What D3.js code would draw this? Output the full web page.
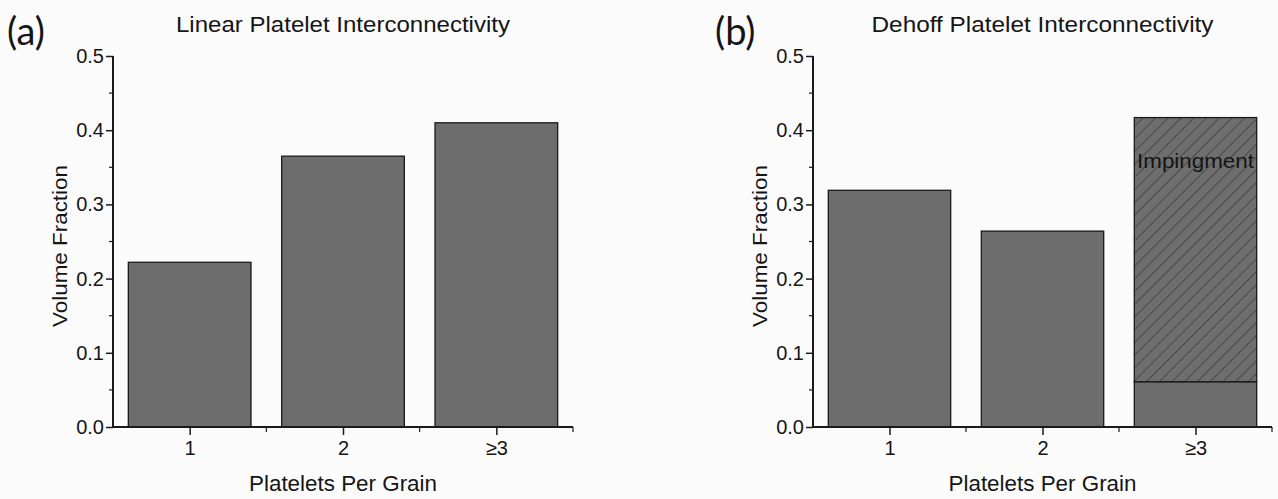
<!DOCTYPE html>
<html>
<head>
<meta charset="utf-8">
<script src="https://cdn.jsdelivr.net/npm/d3@7"></script>
<style>
    body { margin: 0; background: #fbfbfb; }
    svg { display: block; }
    text { font-family: "Liberation Sans", Arial, sans-serif; fill: #151515; }
</style>
</head>
<body>
<svg id="chart" width="1278" height="499"></svg>
<script>
// Data
const categories = ['1', '2', '≥3'];
const linearValues = [0.222, 0.365, 0.410];
const dehoffSolidValues = [0.319, 0.264, 0.061];
const dehoffImpingeValues = [0, 0, 0.356];
const yTickValues = [0, 0.1, 0.2, 0.3, 0.4, 0.5];
const yMinorValues = [0.05, 0.15, 0.25, 0.35, 0.45];

const panels = [
    { letter: '(a)', title: 'Linear Platelet Interconnectivity', left: 113, right: 573, letterX: 7, titleLen: 334,
      solid: linearValues, hatched: null },
    { letter: '(b)', title: 'Dehoff Platelet Interconnectivity', left: 813, right: 1272, letterX: 715, titleLen: 342,
      solid: dehoffSolidValues, hatched: dehoffImpingeValues }
];

const svg = d3.select('#chart');
svg.append('rect').attr('width', 1278).attr('height', 499).attr('fill', '#fbfbfb');

// Hatch pattern for the impingement part
const defs = svg.append('defs');
const pat = defs.append('pattern')
    .attr('id', 'hatch')
    .attr('patternUnits', 'userSpaceOnUse')
    .attr('width', 9).attr('height', 9)
    .attr('patternTransform', 'rotate(45)');
pat.append('rect').attr('width', 9).attr('height', 9).attr('fill', '#6e6e6e');
pat.append('line')
    .attr('x1', 0).attr('y1', 0).attr('x2', 0).attr('y2', 9)
    .attr('stroke', '#2a2a2a').attr('stroke-width', 1.1);

const barColor = '#6d6d6d';
const lineColor = '#1a1a1a';

panels.forEach(p => {
    const g = svg.append('g');

    const x = d3.scaleLinear().domain([0.5, 3.5]).range([p.left, p.right]);
    const y = d3.scaleLinear().domain([0, 0.5]).range([427, 56]);
    const bw = x(1.4) - x(0.6);

    // Bars
    g.selectAll('.bar')
        .data(p.solid)
        .join('rect')
        .attr('x', (d, i) => x(i + 1) - bw / 2)
        .attr('y', d => y(d))
        .attr('width', bw)
        .attr('height', d => y(0) - y(d))
        .attr('fill', barColor)
        .attr('stroke', lineColor)
        .attr('stroke-width', 1.3);

    if (p.hatched) {
        g.selectAll('.hbar')
            .data(p.hatched.map((d, i) => ({ i, base: p.solid[i], v: d })).filter(d => d.v > 0))
            .join('rect')
            .attr('x', d => x(d.i + 1) - bw / 2)
            .attr('y', d => y(d.base + d.v))
            .attr('width', bw)
            .attr('height', d => y(d.base) - y(d.base + d.v))
            .attr('fill', 'url(#hatch)')
            .attr('stroke', lineColor)
            .attr('stroke-width', 1.3);

        const idx = p.hatched.findIndex(d => d > 0);
        g.append('text')
            .attr('x', x(idx + 1))
            .attr('y', y(0.349))
            .attr('text-anchor', 'middle')
            .attr('textLength', 117)
            .attr('lengthAdjust', 'spacingAndGlyphs')
            .style('font-size', '21px')
            .text('Impingment');
    }

    // Y axis
    const yAxis = g.append('g')
        .attr('transform', `translate(${p.left},0)`)
        .call(d3.axisLeft(y).tickValues(yTickValues).tickSize(7).tickFormat(d3.format('.1f')));
    yAxis.select('.domain').attr('stroke', lineColor).attr('stroke-width', 2).attr('d', `M0,${y(0)}V${y(0.5)}`);
    yAxis.selectAll('.tick line').attr('stroke', lineColor).attr('stroke-width', 1.5);
    yAxis.selectAll('.tick text')
        .attr('x', -9)
        .style('font-family', '"Liberation Sans", Arial, sans-serif')
        .style('font-size', '20px')
        .attr('fill', '#151515');
    g.append('g').selectAll('line')
        .data(yMinorValues)
        .join('line')
        .attr('x1', p.left - 4).attr('x2', p.left)
        .attr('y1', d => y(d)).attr('y2', d => y(d))
        .attr('stroke', lineColor).attr('stroke-width', 1.2);

    // X axis
    const xAxis = g.append('g')
        .attr('transform', `translate(0,${y(0)})`)
        .call(d3.axisBottom(x).tickValues([1, 2, 3]).tickSize(8).tickFormat((d, i) => categories[i]));
    xAxis.select('.domain').attr('stroke', lineColor).attr('stroke-width', 2).attr('d', `M${p.left},0H${p.right}`);
    xAxis.selectAll('.tick line').attr('stroke', lineColor).attr('stroke-width', 1.5);
    xAxis.selectAll('.tick text')
        .attr('y', 14)
        .style('font-family', '"Liberation Sans", Arial, sans-serif')
        .style('font-size', '20px')
        .attr('fill', '#151515');
    g.append('g').selectAll('line')
        .data([1.5, 2.5, 3.5])
        .join('line')
        .attr('x1', d => x(d)).attr('x2', d => x(d))
        .attr('y1', y(0)).attr('y2', y(0) + 5)
        .attr('stroke', lineColor).attr('stroke-width', 1.2);

    // Axis titles
    g.append('text')
        .attr('x', (p.left + p.right) / 2)
        .attr('y', 491)
        .attr('text-anchor', 'middle')
        .attr('textLength', 188)
        .attr('lengthAdjust', 'spacingAndGlyphs')
        .style('font-size', '22px')
        .text('Platelets Per Grain');

    g.append('text')
        .attr('transform', `translate(${p.left - 46},246) rotate(-90)`)
        .attr('text-anchor', 'middle')
        .attr('textLength', 162)
        .attr('lengthAdjust', 'spacingAndGlyphs')
        .style('font-size', '21px')
        .text('Volume Fraction');

    // Title and panel letter
    g.append('text')
        .attr('x', (p.left + p.right) / 2)
        .attr('y', 32)
        .attr('text-anchor', 'middle')
        .attr('textLength', p.titleLen)
        .attr('lengthAdjust', 'spacingAndGlyphs')
        .style('font-size', '22px')
        .text(p.title);

    g.append('text')
        .attr('x', p.letterX)
        .attr('y', 45)
        .style('font-family', 'Lato, "Open Sans", sans-serif')
        .style('font-size', '38px')
        .text(p.letter);
});
</script>
</body>
</html>
